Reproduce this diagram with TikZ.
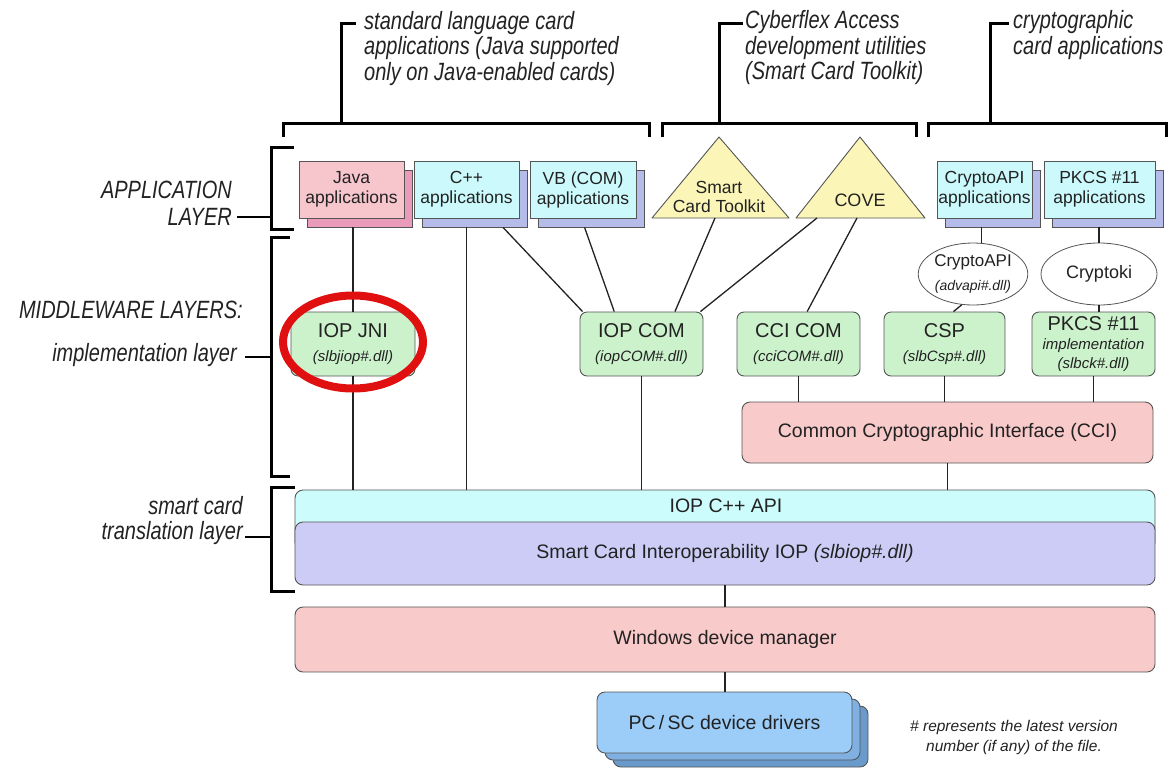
\documentclass[tikz,border=0pt]{standalone}
\usepackage{fontspec}
\setmainfont{Liberation Sans}
\newfontfamily\cndfam[FakeStretch=0.8]{Liberation Sans}
\usetikzlibrary{shapes.geometric,calc}
\definecolor{javafront}{HTML}{F7C6CC}
\definecolor{javashadow}{HTML}{E99BB9}
\definecolor{cyanfront}{HTML}{CCFAFC}
\definecolor{cyanshadow}{HTML}{B6BCEA}
\definecolor{tri}{HTML}{FBF5B8}
\definecolor{mwgreen}{HTML}{CCF2CC}
\definecolor{pinkbox}{HTML}{F9CACA}
\definecolor{apiband}{HTML}{CCFCFC}
\definecolor{iopband}{HTML}{CCCCF6}
\definecolor{pcfront}{HTML}{9CCCF8}
\definecolor{pcmid}{HTML}{80B0E2}
\definecolor{pcdark}{HTML}{6A9ACB}
\definecolor{edge}{HTML}{555555}
\definecolor{ink}{HTML}{222222}
\definecolor{ring}{HTML}{E01010}
\newcommand\anntext{\cndfam\itshape\fontsize{25}{25.5}\selectfont}
\newcommand\apptext{\fontsize{17.5}{20}\selectfont}
\newcommand\mwmain{\fontsize{20}{24}\selectfont}
\newcommand\mwsub{\itshape\fontsize{15}{24}\selectfont}
\newcommand\bandtext{\fontsize{19.5}{22}\selectfont}
\newcommand\notefont{\itshape\fontsize{15.5}{20}\selectfont}
\tikzset{
  box/.style={draw=edge, line width=0.9pt, inner sep=0pt, align=center, text=ink},
  appbox/.style={box, minimum height=57pt, font=\apptext},
  mw/.style={box, fill=mwgreen, rounded corners=7pt, minimum width=123pt, minimum height=64pt, font=\fontsize{20}{24}\selectfont},
  band/.style={box, rounded corners=8pt, minimum width=860pt, font=\bandtext},
  conn/.style={draw=ink, line width=1.3pt},
  brk/.style={draw=black, line width=3pt},
  ann/.style={inner sep=0pt, text=ink, font=\anntext},
  tribox/.style={draw=edge, fill=tri, line width=0.9pt, line join=round},
  ell/.style={draw=edge, fill=white, ellipse, inner sep=0pt, align=center, text=ink, line width=0.8pt},
}
\begin{document}
\begin{tikzpicture}[x=1pt,y=-1pt]
\useasboundingbox (0,0) rectangle (1173,772);

% top annotations and brackets
\node[ann, anchor=west, align=left] (t1) at (364,48.5) {standard language card\\applications (Java supported\\only on Java-enabled cards)};
\node[ann, anchor=west, align=left] (t2) at (745,48) {Cyberflex Access\\development utilities\\(Smart Card Toolkit)};
\node[ann, anchor=west, align=left] (t3) at (1013,35) {cryptographic\\card applications};
\draw[brk] (356,23) -- (341,23) -- (341,123);
\draw[brk] (283,137) -- (283,123) -- (649,123) -- (649,137);
\draw[brk] (743,23) -- (719,23) -- (719,123);
\draw[brk] (662,137) -- (662,123) -- (916,123) -- (916,137);
\draw[brk] (1009,23) -- (990,23) -- (990,123);
\draw[brk] (928,137) -- (928,123) -- (1166,123) -- (1166,137);

% left labels and brackets
\node[ann, anchor=east, align=right, font=\cndfam\itshape\fontsize{25}{27}\selectfont] (applbl) at (232,203.5) {APPLICATION\\LAYER};
\draw[line width=1.5pt] (237,217) -- (271,217);
\node[ann, anchor=east] (mwlbl) at (243,310) {MIDDLEWARE LAYERS:};
\node[ann, anchor=east] (impllbl) at (237,355) {implementation layer};
\draw[line width=2.5pt] (245,357) -- (271,357);
\node[ann, anchor=east, align=right] (sclbl) at (243,520.5) {smart card\\translation layer};
\draw[line width=2.5pt] (245,537) -- (271,537);
\draw[brk] (294,147) -- (271,147) -- (271,229) -- (294,229);
\draw[brk] (290,237) -- (271,237) -- (271,476) -- (290,476);
\draw[brk] (295,487) -- (271,487) -- (271,591) -- (295,591);

% application boxes
\node[appbox, fill=javashadow, minimum width=105pt] (javaS) at (359.5,198.5) {};
\node[appbox, fill=javafront, minimum width=105pt] (java) at (351.5,189.5) {Java\\applications};
\node[appbox, fill=cyanshadow, minimum width=105pt] (cppS) at (474.5,198.5) {};
\node[appbox, fill=cyanfront, minimum width=105pt] (cpp) at (466.5,189.5) {C++\\applications};
\node[appbox, fill=cyanshadow, minimum width=106pt] (vbS) at (591,198.5) {};
\node[appbox, fill=cyanfront, minimum width=106pt] (vb) at (583,189.5) {VB (COM)\\applications};
\node[appbox, fill=cyanshadow, minimum width=95pt] (capiS) at (992.5,198.5) {};
\node[appbox, fill=cyanfront, minimum width=95pt] (capi) at (984.5,189.5) {CryptoAPI\\applications};
\node[appbox, fill=cyanshadow, minimum width=111pt] (pkS) at (1107.5,198.5) {};
\node[appbox, fill=cyanfront, minimum width=111pt] (pk) at (1099.5,189.5) {PKCS \#11\\applications};

% triangles
\coordinate (sctA) at (719,137); \coordinate (sctB) at (652,218); \coordinate (sctC) at (789,218);
\coordinate (coveA) at (860,137); \coordinate (coveB) at (796,218); \coordinate (coveC) at (925,218);
\draw[tribox] (sctA) -- (sctB) -- (sctC) -- cycle;
\draw[tribox] (coveA) -- (coveB) -- (coveC) -- cycle;
\node[inner sep=0pt, align=center, text=ink, font=\fontsize{17.5}{19}\selectfont] (sct) at (719,197) {Smart\\Card Toolkit};
\node[inner sep=0pt, text=ink, font=\fontsize{18}{20}\selectfont] (cove) at (860,200) {COVE};
\coordinate (sctL) at (715,218);
\coordinate (coveL) at (817,218);
\coordinate (coveR) at (857,218);

% ellipses
\node[ell, minimum width=106pt, minimum height=62pt, font=\fontsize{17}{24}\selectfont] (capiE) at (973,274) {CryptoAPI\\{\itshape\fontsize{14}{24}\selectfont (advapi\#.dll)}};
\node[ell, minimum width=116pt, minimum height=62pt, font=\fontsize{18}{20}\selectfont] (cki) at (1099,274) {Cryptoki};

% middleware boxes
\node[mw, minimum width=124pt] (iopjni) at (353,344) {IOP JNI\\{\mwsub (slbjiop\#.dll)}};
\node[mw] (iopcom) at (641.5,344) {IOP COM\\{\mwsub (iopCOM\#.dll)}};
\node[mw] (ccicom) at (798.5,344) {CCI COM\\{\mwsub (cciCOM\#.dll)}};
\node[mw, minimum width=121pt] (csp) at (944.5,344) {CSP\\{\mwsub (slbCsp\#.dll)}};
\node[mw, font=\fontsize{20}{19}\selectfont] (pkimpl) at (1093.5,344) {PKCS \#11\\{\itshape\fontsize{15}{19}\selectfont implementation}\\{\itshape\fontsize{15}{19}\selectfont (slbck\#.dll)}};
\node[box, fill=pinkbox, rounded corners=8pt, minimum width=411pt, minimum height=61pt, font=\bandtext] (cci) at (947.5,432.5) {Common Cryptographic Interface (CCI)};

% bands
\node[band, fill=apiband, minimum height=60pt] (api) at (725,520) {};
\node[inner sep=0pt, text=ink, font=\bandtext] (apilbl) at (726,506) {IOP C++ API};
\node[band, fill=iopband, minimum height=63pt] (iop) at (725,553.5) {Smart Card Interoperability IOP \textit{(slbiop\#.dll)}};
\node[band, fill=pinkbox, minimum height=65pt] (win) at (725,639.5) {Windows device manager};

% PC/SC stack
\node[box, fill=pcdark, rounded corners=8pt, minimum width=255pt, minimum height=61pt] (pcS2) at (740.5,736.5) {};
\node[box, fill=pcmid, rounded corners=8pt, minimum width=255pt, minimum height=61pt] (pcS1) at (732.5,729.5) {};
\node[box, fill=pcfront, rounded corners=8pt, minimum width=255pt, minimum height=61pt, font=\bandtext] (pcsc) at (724.5,722.5) {PC\,/\,SC device drivers};

\node[inner sep=0pt, align=center, text=ink, font=\notefont] (note) at (1014,737) {\# represents the latest version\\number (if any) of the file.};

% connectors
\draw[conn] (iopjni.north |- javaS.south) -- (iopjni.north);
\draw[conn] (iopjni.south) -- (iopjni.south |- api.north);
\draw[conn] (cpp.south |- cppS.south) -- (cpp.south |- api.north);
\draw[conn] ($(cppS.south west)!0.77!(cppS.south east)$) -- ($(iopcom.north west)+(3,0)$);
\draw[conn] ($(vbS.south west)!0.44!(vbS.south east)$) -- ($(iopcom.north west)!0.28!(iopcom.north east)$);
\draw[conn] (sctL) -- ($(iopcom.north west)!0.77!(iopcom.north east)$);
\draw[conn] (coveL) -- ($(iopcom.north east)+(-3,0)$);
\draw[conn] (coveR) -- ($(ccicom.north west)!0.57!(ccicom.north east)$);
\draw[conn] (capiE.75 |- capiS.south) -- (capiE.75);
\draw[conn] (cki.north |- pkS.south) -- (cki.north);
\draw[conn] (capiE.250) -- ($(csp.north)+(9,0)$);
\draw[conn] (cki.south) -- (cki.south |- pkimpl.north);
\draw[conn] (iopcom.south) -- (iopcom.south |- api.north);
\draw[conn] (ccicom.south) -- (ccicom.south |- cci.north);
\draw[conn] (csp.south) -- (csp.south |- cci.north);
\draw[conn] (pkimpl.south) -- (pkimpl.south |- cci.north);
\draw[conn] (cci.south) -- (cci.south |- api.north);
\draw[conn] (win.north |- iop.south) -- (win.north);
\draw[conn] (win.south) -- (win.south |- pcsc.north);

% highlight ring
\node[draw=ring, line width=8pt, ellipse, minimum width=140pt, minimum height=93pt, inner sep=0pt] (ring) at (353,342) {};
\end{tikzpicture}
\end{document}
